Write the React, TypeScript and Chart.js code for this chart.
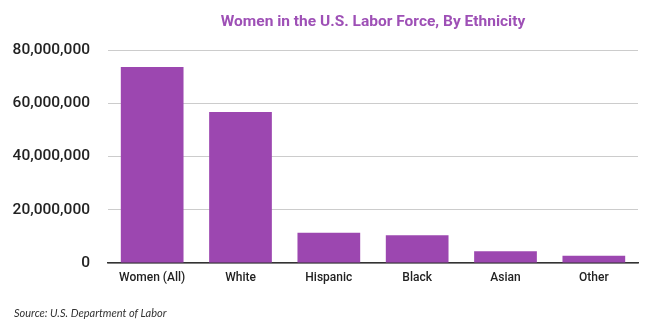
import React, { useEffect, useRef } from "react";
import { Chart, registerables } from "chart.js";

Chart.register(...registerables);

const categories = ["Women (All)", "White", "Hispanic", "Black", "Asian", "Other"];
const laborForce = [73600000, 56700000, 11400000, 10400000, 4400000, 2700000];
const yTicks = [0, 20000000, 40000000, 60000000, 80000000];

const PURPLE = "#9C47B0";

export default function App() {
  const ref = useRef<HTMLCanvasElement | null>(null);

  useEffect(() => {
    document.body.style.margin = "0";
    const ctx = ref.current!;
    const chart = new Chart(ctx, {
      type: "bar",
      data: {
        labels: categories,
        datasets: [
          {
            data: laborForce,
            backgroundColor: PURPLE,
            barPercentage: 0.71,
            categoryPercentage: 1,
          },
        ],
      },
      options: {
        responsive: false,
        animation: false,
        layout: { padding: { left: 0, right: 20, top: 0, bottom: 0 } },
        plugins: {
          legend: { display: false },
          tooltip: { enabled: false },
          title: {
            display: true,
            fullSize: false,
            text: "Women in the U.S. Labor Force, By Ethnicity",
            color: "#9E50B6",
            font: { family: "Roboto", size: 15.5, weight: "bold" },
            padding: { top: 13, bottom: 18.4 },
          },
        },
        scales: {
          x: {
            grid: { display: false, drawTicks: false },
            border: { display: true, color: "#333", width: 1.5 },
            ticks: {
              color: "#222",
              font: { family: "Roboto", size: 12, weight: "500" },
              padding: 8,
              maxRotation: 0,
            },
            afterFit: (s: any) => {
              s.height = 62;
            },
          },
          y: {
            min: 0,
            max: 80000000,
            afterBuildTicks: (s: any) => {
              s.ticks = yTicks.map((v) => ({ value: v }));
            },
            grid: { color: "#cccccc", drawTicks: false, lineWidth: 1 },
            border: { display: false },
            ticks: {
              color: "#222",
              font: { family: "Roboto", size: 15.5, weight: "500" },
              padding: 18,
              callback: (v: any) => Number(v).toLocaleString("en-US"),
            },
            afterFit: (s: any) => {
              s.width = 108;
            },
          },
        },
      },
    });
    return () => chart.destroy();
  }, []);

  return (
    <div style={{ position: "relative", width: 658, height: 325 }}>
      <canvas ref={ref} width={658} height={325} style={{ display: "block" }} />
      <div
        style={{
          position: "absolute",
          left: 14,
          top: 306,
          fontFamily: "Lato",
          fontStyle: "italic",
          fontSize: 11,
          color: "#333",
          whiteSpace: "nowrap",
        }}
      >
        Source: U.S. Department of Labor
      </div>
    </div>
  );
}
